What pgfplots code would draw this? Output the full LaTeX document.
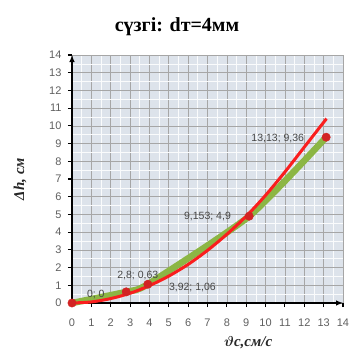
\documentclass[border=0pt]{standalone}
\usepackage{amsmath}
\usepackage{fontspec}
\setmainfont{Liberation Serif}
\setsansfont{Liberation Sans}
\usepackage{pgfplots}
\pgfplotsset{compat=1.18}
\definecolor{bg}{RGB}{221,227,235}
\definecolor{gline}{RGB}{140,182,68}
\definecolor{rline}{RGB}{250,30,30}
\definecolor{mk}{RGB}{210,35,35}
\definecolor{tk}{RGB}{95,95,95}
\definecolor{lbl}{RGB}{70,70,70}
\begin{document}
\begin{tikzpicture}
\useasboundingbox (-72pt,-51pt) rectangle (278pt,303pt);
\begin{axis}[
  scale only axis, width=271pt, height=248pt,
  at={(0,0)}, anchor=south west,
  xmin=0, xmax=14, ymin=0, ymax=14,
  xtick={0,...,14}, ytick={0,...,14},
  minor x tick num=1, minor y tick num=1,
  grid=both,
  major grid style={black!35, line width=0.6pt},
  minor grid style={white!85!bg, line width=0.7pt},
  axis background/.style={fill=bg},
  axis x line=bottom, axis y line=left,
  axis line style={black, line width=1.4pt, -latex},
  tick align=outside,
  major tick length=4pt, minor tick length=0pt,
  tick style={black, line width=1.1pt},
  /pgf/number format/assume math mode=true,
  ticklabel style={font=\sffamily\fontsize{11}{11}\selectfont, text=tk},
  xticklabel style={yshift=-8pt},
  yticklabel style={xshift=-3pt},
  clip=false,
]
\addplot[gline, line width=6.5pt, smooth, tension=0.35] coordinates {(0,0) (2.8,0.63) (3.92,1.06) (9.153,4.9) (13.13,9.36)};
\addplot[rline, line width=3pt, smooth] coordinates {(0,0) (1,0.06) (2,0.25) (3,0.55) (4,0.98) (5,1.52) (6,2.18) (7,2.97) (8,3.88) (9,4.9) (10,6.08) (11,7.4) (12,8.8) (13,10.2) (13.15,10.4)};
\addplot[only marks, mark=*, mark size=4.2pt, color=mk] coordinates {(0,0) (2.8,0.63) (3.92,1.06) (9.153,4.9) (13.13,9.36)};
\node[font=\sffamily\fontsize{10.5}{10}\selectfont, text=lbl] at (axis cs:1.23,0.5) {0; 0};
\node[font=\sffamily\fontsize{10.5}{10}\selectfont, text=lbl] at (axis cs:3.4,1.53) {2,8; 0,63};
\node[font=\sffamily\fontsize{10.5}{10}\selectfont, text=lbl] at (axis cs:6.22,0.9) {3,92; 1,06};
\node[font=\sffamily\fontsize{10.5}{10}\selectfont, text=lbl] at (axis cs:7.0,4.88) {9,153; 4,9};
\node[font=\sffamily\fontsize{10.5}{10}\selectfont, text=lbl] at (axis cs:10.63,9.3) {13,13; 9,36};
\node[font=\bfseries\itshape\fontsize{15}{15}\selectfont, text=black!85] at (rel axis cs:0.65,-0.161) {$\boldsymbol{\vartheta}$с,см/с};
\node[font=\bfseries\itshape\fontsize{15}{15}\selectfont, text=black!85, rotate=90] at (rel axis cs:-0.192,0.5) {Δh, см};
\end{axis}
\node[font=\bfseries\fontsize{20}{20}\selectfont] at (105pt,276pt) {сүзгі: dт=4мм};
\end{tikzpicture}
\end{document}
